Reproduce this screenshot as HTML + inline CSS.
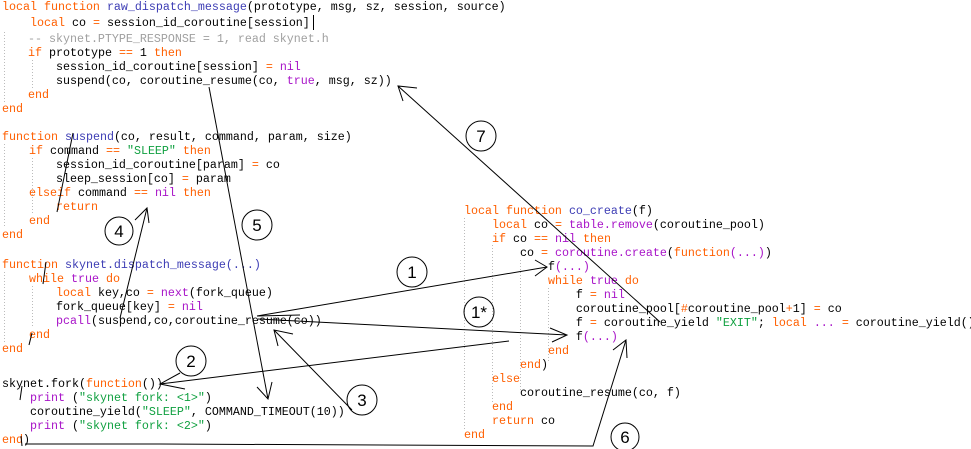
<!DOCTYPE html>
<html><head><meta charset="utf-8"><style>
html,body{margin:0;padding:0;background:#fff;}
body{width:971px;height:449px;position:relative;overflow:hidden;font-family:"Liberation Mono",monospace;font-size:11.67px;color:#000;}
.l{position:absolute;white-space:pre;line-height:14px;height:14px;}
.k{color:#ff5f00}.f{color:#3c3cb4}.p{color:#a814c8}.s{color:#10a040}.c{color:#a0a0a0}
svg{position:absolute;left:0;top:0;}
</style></head><body>
<svg width="971" height="449" viewBox="0 0 971 449">
<g stroke="#bbb" stroke-width="1" stroke-dasharray="1,2" fill="none">
<line x1="4.5" y1="32" x2="4.5" y2="102"/>
<line x1="4.5" y1="144" x2="4.5" y2="228"/>
<line x1="4.5" y1="272" x2="4.5" y2="342"/>
<line x1="32.5" y1="60" x2="32.5" y2="88"/>
<line x1="32.5" y1="158" x2="32.5" y2="214"/>
<line x1="32.5" y1="286" x2="32.5" y2="328"/>
<line x1="464.5" y1="218" x2="464.5" y2="430"/>
<line x1="492.5" y1="245" x2="492.5" y2="402"/>
<line x1="520.5" y1="260" x2="520.5" y2="390"/>
<line x1="548.5" y1="288" x2="548.5" y2="362"/>
</g>
</svg>
<div class="l" style="left:2px;top:0px"><span class="k">local function</span> <span class="f">raw_dispatch_message</span>(prototype, msg, sz, session, source)</div>
<div class="l" style="left:2px;top:16px">    <span class="k">local</span> co <span class="k">=</span> session_id_coroutine[session]</div>
<div class="l" style="left:0px;top:32px">    <span class="c">-- skynet.PTYPE_RESPONSE = 1, read skynet.h</span></div>
<div class="l" style="left:0px;top:46px">    <span class="k">if</span> prototype <span class="k">==</span> 1 <span class="k">then</span></div>
<div class="l" style="left:0px;top:60px">        session_id_coroutine[session] <span class="k">=</span> <span class="p">nil</span></div>
<div class="l" style="left:0px;top:74px">        suspend(co, coroutine_resume(co, <span class="p">true</span>, msg, sz))</div>
<div class="l" style="left:0px;top:88px">    <span class="k">end</span></div>
<div class="l" style="left:2px;top:102px"><span class="k">end</span></div>
<div class="l" style="left:2px;top:130px"><span class="k">function</span> <span class="f">suspend</span>(co, result, command, param, size)</div>
<div class="l" style="left:1px;top:144px">    <span class="k">if</span> command <span class="k">==</span> <span class="s">"SLEEP"</span> <span class="k">then</span></div>
<div class="l" style="left:0px;top:158px">        session_id_coroutine[param] <span class="k">=</span> co</div>
<div class="l" style="left:0px;top:172px">        sleep_session[co] <span class="k">=</span> param</div>
<div class="l" style="left:1px;top:186px">    <span class="k">elseif</span> command <span class="k">==</span> <span class="p">nil</span> <span class="k">then</span></div>
<div class="l" style="left:0px;top:200px">        <span class="k">return</span></div>
<div class="l" style="left:1px;top:214px">    <span class="k">end</span></div>
<div class="l" style="left:2px;top:228px"><span class="k">end</span></div>
<div class="l" style="left:2px;top:258px"><span class="k">function</span> <span class="f">skynet.dispatch_message(...)</span></div>
<div class="l" style="left:1px;top:272px">    <span class="k">while</span> <span class="p">true</span> <span class="k">do</span></div>
<div class="l" style="left:0px;top:286px">        <span class="k">local</span> key,co <span class="k">=</span> <span class="p">next</span>(fork_queue)</div>
<div class="l" style="left:0px;top:300px">        fork_queue[key] <span class="k">=</span> <span class="p">nil</span></div>
<div class="l" style="left:0px;top:314px">        <span class="p">pcall</span>(suspend,co,coroutine_resume(co))</div>
<div class="l" style="left:1px;top:328px">    <span class="k">end</span></div>
<div class="l" style="left:2px;top:342px"><span class="k">end</span></div>
<div class="l" style="left:2px;top:377px">skynet.fork(<span class="k">function</span>())</div>
<div class="l" style="left:2px;top:391px">    <span class="p">print</span> (<span class="s">"skynet fork: &lt;1&gt;"</span>)</div>
<div class="l" style="left:2px;top:405px">    coroutine_yield(<span class="s">"SLEEP"</span>, COMMAND_TIMEOUT(10))</div>
<div class="l" style="left:2px;top:419px">    <span class="p">print</span> (<span class="s">"skynet fork: &lt;2&gt;"</span>)</div>
<div class="l" style="left:2px;top:433px"><span class="k">end</span>)</div>

<div class="l" style="left:464px;top:204px"><span class="k">local function</span> <span class="f">co_create</span>(f)</div>
<div class="l" style="left:464px;top:218px">    <span class="k">local</span> co <span class="k">=</span> <span class="p">table.remove</span>(coroutine_pool)</div>
<div class="l" style="left:464px;top:232px">    <span class="k">if</span> co <span class="k">==</span> <span class="p">nil</span> <span class="k">then</span></div>
<div class="l" style="left:464px;top:246px">        co <span class="k">=</span> <span class="p">coroutine.create</span>(<span class="k">function</span><span class="p">(...)</span>)</div>
<div class="l" style="left:464px;top:260px">            f<span class="p">(...)</span></div>
<div class="l" style="left:464px;top:274px">            <span class="k">while</span> <span class="p">true</span> <span class="k">do</span></div>
<div class="l" style="left:464px;top:288px">                f <span class="k">=</span> <span class="p">nil</span></div>
<div class="l" style="left:464px;top:302px">                coroutine_pool[<span class="k">#</span>coroutine_pool<span class="k">+</span>1] <span class="k">=</span> co</div>
<div class="l" style="left:464px;top:316px">                f <span class="k">=</span> coroutine_yield <span class="s">"EXIT"</span>; <span class="k">local</span> <span class="p">...</span> <span class="k">=</span> coroutine_yield()</div>
<div class="l" style="left:464px;top:330px">                f<span class="p">(...)</span></div>
<div class="l" style="left:464px;top:344px">            <span class="k">end</span></div>
<div class="l" style="left:464px;top:358px">        <span class="k">end</span>)</div>
<div class="l" style="left:464px;top:372px">    <span class="k">else</span></div>
<div class="l" style="left:464px;top:386px">        coroutine_resume(co, f)</div>
<div class="l" style="left:464px;top:400px">    <span class="k">end</span></div>
<div class="l" style="left:464px;top:414px">    <span class="k">return</span> co</div>
<div class="l" style="left:464px;top:428px"><span class="k">end</span></div>

<svg width="971" height="449" viewBox="0 0 971 449" style="pointer-events:none">
<g stroke="#000" stroke-width="1" fill="none">
<line x1="313.5" y1="15" x2="313.5" y2="30"/>
<!-- 5 -->
<line x1="209" y1="87" x2="268" y2="399"/>
<polyline points="257,387 268,399 272,382"/>
<!-- 7 -->
<line x1="660" y1="322" x2="398" y2="86"/>
<polyline points="417,88 398,86 403,101"/>
<!-- 4 -->
<line x1="120" y1="318" x2="147" y2="208"/>
<polyline points="135,220 147,208 149,223"/>
<line x1="73" y1="133" x2="57" y2="212"/>
<line x1="46" y1="262" x2="43" y2="284"/>
<line x1="32" y1="333" x2="29" y2="345"/>
<line x1="22" y1="386" x2="20" y2="400"/>
<line x1="21" y1="436" x2="22" y2="446"/>
<!-- 1 -->
<line x1="257" y1="316" x2="547" y2="267"/>
<polyline points="535,260 547,267 535,276"/>
<line x1="257" y1="316" x2="300" y2="315"/>
<!-- 1* -->
<line x1="258" y1="319" x2="567" y2="335"/>
<polyline points="550,328 567,335 552,342"/>
<!-- 2 -->
<line x1="509" y1="341" x2="160" y2="384"/>
<polyline points="180,373 160,384 185,389"/>
<!-- 3 -->
<line x1="352" y1="410" x2="274" y2="330"/>
<polyline points="293,334 274,330 278,346"/>
<!-- 6 -->
<polyline points="25,444 160,444 593,446 626,340"/>
<polyline points="613,350 626,340 627,358"/>
<circle cx="481" cy="136" r="15"/>
<circle cx="257" cy="225" r="15"/>
<circle cx="119" cy="231" r="14"/>
<circle cx="412" cy="272" r="15"/>
<circle cx="479" cy="312" r="15"/>
<circle cx="191" cy="361" r="15"/>
<circle cx="362" cy="400" r="15"/>
<circle cx="625" cy="437" r="14"/>
</g>
<g font-family="Liberation Sans, sans-serif" font-size="17" text-anchor="middle" fill="#000">
<text x="481" y="142">7</text>
<text x="257" y="231">5</text>
<text x="119" y="237">4</text>
<text x="412" y="278">1</text>
<text x="479" y="318">1*</text>
<text x="191" y="367">2</text>
<text x="362" y="406">3</text>
<text x="625" y="443">6</text>
</g>
</svg>
</body></html>
